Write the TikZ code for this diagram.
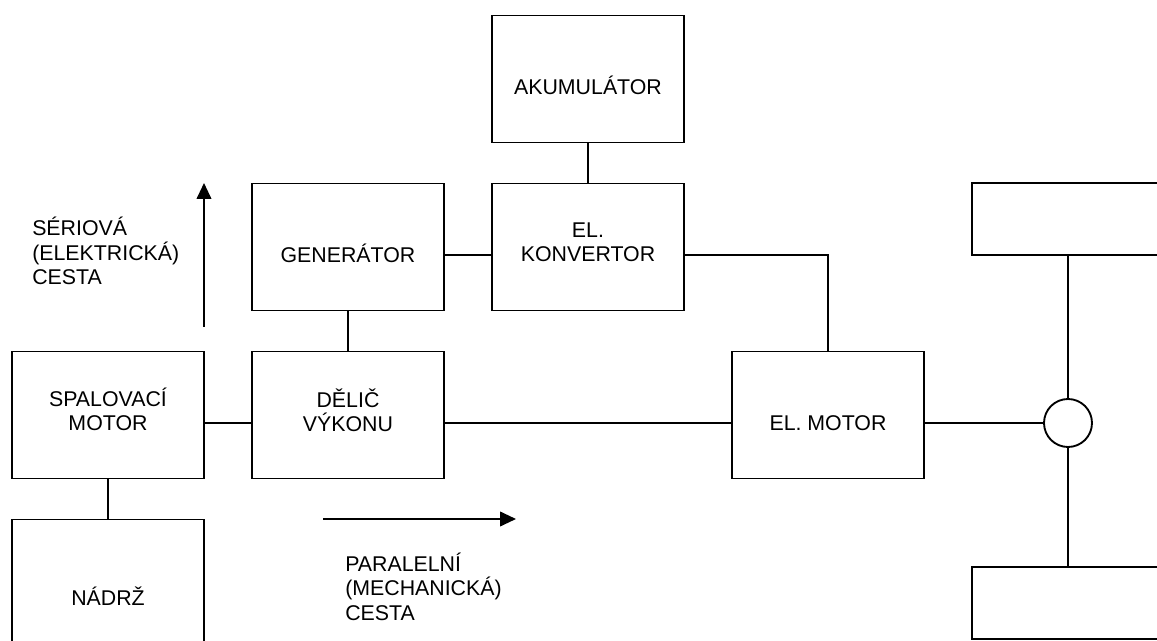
\documentclass[tikz,border=0pt]{standalone}
\usepackage{fontspec}
\setmainfont{Liberation Sans}
\usetikzlibrary{arrows.meta}
\tikzset{
  x=0.75pt, y=-0.75pt,
  blk/.style={draw, rectangle, line width=1.4pt, minimum width=144pt, minimum height=95.25pt, inner sep=0pt},
  wheelbox/.style={blk, minimum height=54pt},
  hub/.style={draw, circle, line width=1.4pt, minimum size=36pt, inner sep=0pt},
  txt/.style={font=\fontsize{16}{18.2}\selectfont, inner sep=0pt, anchor=base},
  wire/.style={line width=1.4pt},
  flow/.style={line width=1.4pt, -{Triangle[length=12pt, width=11pt]}}
}
\begin{document}
\begin{tikzpicture}
\clip (0,0) rectangle (1157,641);
\fill[white] (0,0) rectangle (1157,641);

% blocks of the drive train
\node[blk] (akum)  at (588,79)  {};
\node[blk] (gen)   at (348,247) {};
\node[blk] (konv)  at (588,247) {};
\node[blk] (spal)  at (108,415) {};
\node[blk] (delic) at (348,415) {};
\node[blk] (motor) at (828,415) {};
\node[blk] (nadrz) at (108,583) {};
\node[wheelbox] (kolo1) at (1068,219) {};
\node[wheelbox] (kolo2) at (1068,603) {};
\node[hub] (dif) at (1068,423) {};

% block captions (base = baseline of the last line)
\node[txt] (t-akum) at (588,94.5) {AKUMULÁTOR};
\node[txt] (t-gen) at (348,262.5) {GENERÁTOR};
\node[txt, align=center] (t-konv) at (588,262) {EL.\\KONVERTOR};
\node[txt, align=center] (t-spal) at (108,431) {SPALOVACÍ\\MOTOR};
\node[txt, align=center] (t-delic) at (348,431.5) {DĚLIČ\\VÝKONU};
\node[txt] (t-motor) at (828,430.5) {EL. MOTOR};
\node[txt] (t-nadrz) at (108,605) {NÁDRŽ};

% connections
\draw[wire] (akum.south) -- (konv.north);
\draw[wire] ([yshift=-6pt]gen.east) -- ([yshift=-6pt]konv.west);
\draw[wire] ([yshift=-6pt]konv.east) -| (motor.north);
\draw[wire] (gen.south) -- (delic.north);
\draw[wire] ([yshift=-6pt]spal.east) -- ([yshift=-6pt]delic.west);
\draw[wire] ([yshift=-6pt]delic.east) -- ([yshift=-6pt]motor.west);
\draw[wire] ([yshift=-6pt]motor.east) -- (dif.west);
\draw[wire] (spal.south) -- (nadrz.north);
\draw[wire] (dif.north) -- (kolo1.south);
\draw[wire] (dif.south) -- (kolo2.north);

% power path arrows
\coordinate (ser-a) at (204,327);
\coordinate (ser-b) at (204,183);
\coordinate (par-a) at (323,519);
\coordinate (par-b) at (516,519);
\draw[flow] (ser-a) -- (ser-b);
\draw[flow] (par-a) -- (par-b);

\node[txt, align=left, anchor=base west] (t-ser) at (32,284.3) {SÉRIOVÁ\\(ELEKTRICKÁ)\\CESTA};
\node[txt, align=left, anchor=base west] (t-par) at (345,620) {PARALELNÍ\\(MECHANICKÁ)\\CESTA};
\end{tikzpicture}
\end{document}
